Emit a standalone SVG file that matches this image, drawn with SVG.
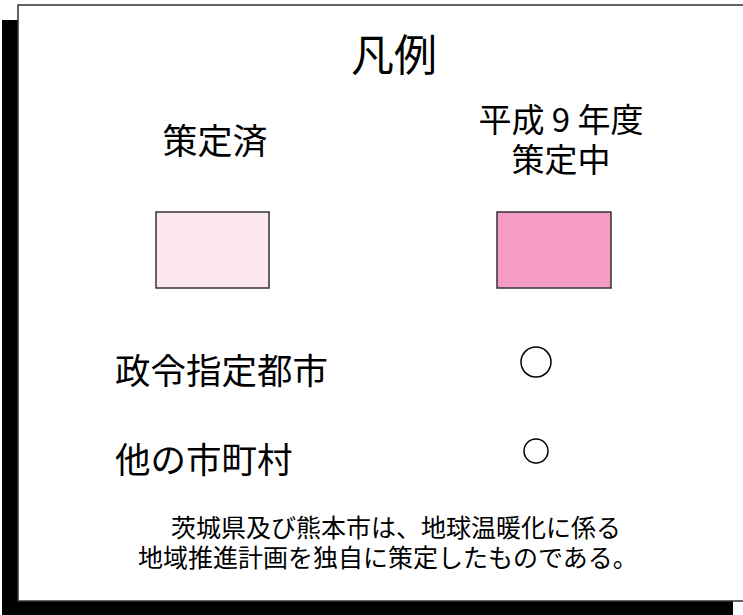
<svg xmlns="http://www.w3.org/2000/svg" width="743" height="615" viewBox="0 0 743 615">
<style>
text{font-family:"Noto Sans CJK JP","Noto Sans",sans-serif;fill:#000}
.c{fill:none;stroke:#000;stroke-width:1.5}
</style>
<rect x="0" y="0" width="743" height="615" fill="#fff"/>
<g id="frame">
<rect x="2" y="20" width="731" height="600" fill="#000"/>
<rect x="18" y="5" width="740" height="596" fill="#fff" stroke="#333" stroke-width="1.5"/>
</g>
<g id="title"><text x="394" y="71" font-size="43" text-anchor="middle">凡例</text></g>
<g id="done">
<text x="215" y="154" font-size="35" text-anchor="middle">策定済</text>
<rect x="156" y="212" width="113" height="76" fill="#FDE8F1" stroke="#333" stroke-width="1.5"/>
</g>
<g id="inprogress">
<text x="561" y="132" font-size="33" text-anchor="middle">平成 9 年度</text>
<text x="561" y="172" font-size="33" text-anchor="middle">策定中</text>
<rect x="497" y="212" width="114" height="76" fill="#F49CC3" stroke="#333" stroke-width="1.5"/>
</g>
<g id="designated">
<text x="115" y="384" font-size="35.5">政令指定都市</text>
<circle class="c" cx="536" cy="362" r="15"/>
</g>
<g id="other">
<text x="115" y="473" font-size="35.5">他の市町村</text>
<circle class="c" cx="536" cy="451" r="12"/>
</g>
<g id="note">
<text x="396" y="537" font-size="25" text-anchor="middle">茨城県及び熊本市は、地球温暖化に係る</text>
<text x="388" y="567" font-size="25" text-anchor="middle">地域推進計画を独自に策定したものである。</text>
</g>
<g id="connectors"/>
</svg>
